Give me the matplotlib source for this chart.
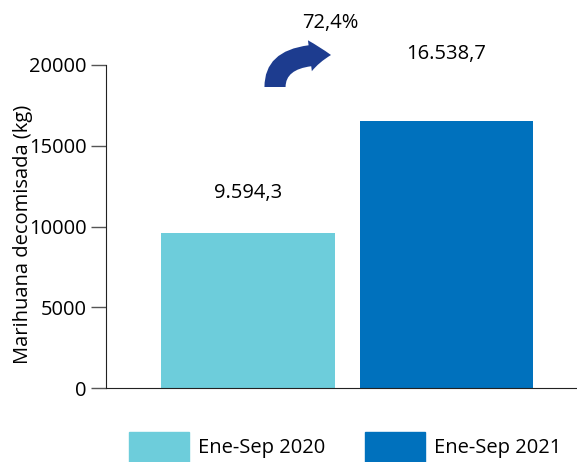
import matplotlib
matplotlib.use("Agg")
import matplotlib.pyplot as plt
from matplotlib.patches import FancyArrowPatch, Patch
from matplotlib.path import Path

plt.rcParams['font.family'] = ['Open Sans', 'DejaVu Sans']

periods = ["Ene-Sep 2020", "Ene-Sep 2021"]
values = [9594.3, 16538.7]
value_labels = ["9.594,3", "16.538,7"]
change_label = "72,4%"
colors = ["#6dcddb", "#0071bd"]

W, H = 577, 462
fig = plt.figure(figsize=(W / 100, H / 100), dpi=100)
ax = fig.add_axes([106 / W, 1 - 388 / H, 1 - 106 / W, (388 - 65) / H])

x = [0, 1]
ax.bar(x, values, width=0.875, color=colors)
ax.set_xlim(-0.717, 1.66)
ax.set_ylim(0, 20000)
ax.set_yticks([0, 5000, 10000, 15000, 20000])
ax.tick_params(axis='y', labelsize=14.5, length=11, width=1, color="#555555", pad=3)
ax.set_xticks([])
ax.spines['top'].set_visible(False)
ax.spines['right'].set_visible(False)
ax.spines['left'].set_color("#222222")
ax.spines['bottom'].set_color("#222222")
ax.set_ylabel("Marihuana decomisada (kg)", fontsize=14.5, labelpad=-3)
ax.yaxis.label.set_y(0.475)

ax.text(x[0], values[0] + 2450, value_labels[0], ha='center', va='center', fontsize=14.5)
ax.text(x[1], 20700, value_labels[1], ha='center', va='center', fontsize=14.5, clip_on=False)
fig.text(330 / W, 1 - 23 / H, change_label, ha='center', va='center', fontsize=14.5)

# curved arrow (quadratic bezier), figure fraction coords
pts = [(275, 87), (275, 53), (331, 55)]
arrow_path = Path([(px / W, 1 - py / H) for px, py in pts],
                  [Path.MOVETO, Path.CURVE3, Path.CURVE3])
arrow = FancyArrowPatch(path=arrow_path, transform=fig.transFigure,
                        arrowstyle="simple,head_width=1.4,head_length=0.95,tail_width=0.95",
                        mutation_scale=16, color="#1d3c8f", lw=0)
fig.patches.append(arrow)

handles = [Patch(color=c) for c in colors]
fig.legend(handles, periods, loc='lower left', bbox_to_anchor=(129 / W, 0), ncol=2,
           frameon=False, fontsize=14.5, handlelength=3.0, handleheight=1.92,
           columnspacing=1.95, handletextpad=0.45, borderpad=0, borderaxespad=0)

fig.savefig("out.png", dpi=100)
